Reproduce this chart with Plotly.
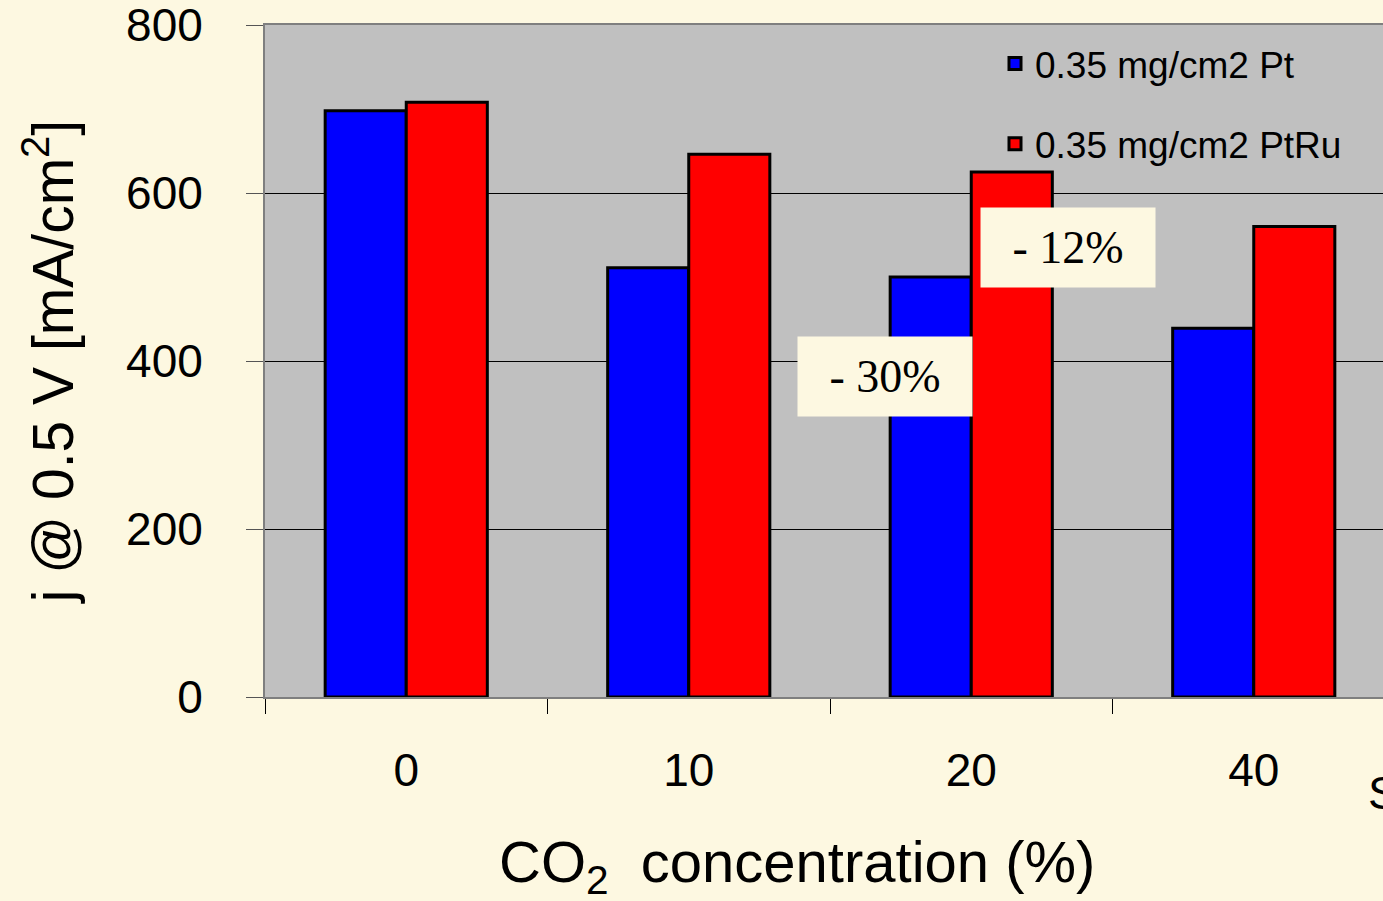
import plotly.graph_objects as go

categories = ["0", "10", "20", "40"]
pt_values = [698, 511, 500, 439]
ptru_values = [708, 646, 625, 560]
series_names = ["0.35 mg/cm2 Pt", "0.35 mg/cm2 PtRu"]
y_ticks = [0, 200, 400, 600, 800]
notes = ["- 30%", "- 12%"]
note_x = [2.195 - 0.5, 2.842 - 0.5]
note_y = [382, 535]
x_title = "CO<sub>2</sub>  concentration (%)"
y_title = "j @ 0.5 V [mA/cm<sup>2</sup>]"

W, H = 1383, 901
L, T, B = 265, 25, 204
PH = H - T - B

fig = go.Figure()
fig.add_trace(go.Bar(x=categories, y=pt_values, name=series_names[0],
                     marker=dict(color="#0000FF", line=dict(color="black", width=3)),
                     legendgroup="a"))
fig.add_trace(go.Bar(x=categories, y=ptru_values, name=series_names[1],
                     marker=dict(color="#FF0000", line=dict(color="black", width=3)),
                     legendgroup="b"))

for txt, xx, yy in zip(notes, note_x, note_y):
    fig.add_annotation(x=xx, y=yy, xref="x", yref="y", text=txt, showarrow=False,
                       font=dict(family="Liberation Serif", size=46, color="black"),
                       bgcolor="#FDF8E1", width=172, height=77, align="center", valign="middle")

fig.add_annotation(x=(797 - L) / (W - L), y=(T + PH - 866) / PH, xref="paper", yref="paper",
                   text=x_title, showarrow=False, xanchor="center", yanchor="middle",
                   font=dict(family="Liberation Sans", size=58, color="black"))

fig.add_annotation(x=(1366 - L) / (W - L), y=(T + PH - 793) / PH, xref="paper", yref="paper",
                   text="S", showarrow=False, xanchor="left", yanchor="middle",
                   font=dict(family="Liberation Sans", size=46, color="black"))

fig.update_layout(
    width=W, height=H,
    margin=dict(l=L, r=0, t=T, b=B, pad=0),
    paper_bgcolor="#FDF8E1", plot_bgcolor="#C0C0C0",
    barmode="group", bargap=0.426, bargroupgap=0,
    font=dict(family="Liberation Sans", color="black"),
    legend=dict(x=(995 - L) / (W - L), y=(T + PH - 33) / PH, xanchor="left", yanchor="top",
                bgcolor="rgba(0,0,0,0)", font=dict(size=37, family="Liberation Sans"),
                tracegroupgap=29, traceorder="grouped"),
    xaxis=dict(type="category", range=[-0.5, -0.5 + (W - L) / 282.5],
               tickson="boundaries", ticks="outside", ticklen=15, tickcolor="black", tickwidth=1,
               tickfont=dict(size=46), ticklabelstandoff=32,
               showline=True, mirror=True, linecolor="#7F7F7F", linewidth=2, showgrid=False),
    yaxis=dict(range=[0, 800], tickvals=y_ticks, ticks="outside", ticklen=17, tickcolor="#555555",
               tickwidth=1, tickfont=dict(size=46), ticklabelstandoff=34, ticklabeloverflow="allow",
               showline=True, linecolor="#7F7F7F", linewidth=2,
               showgrid=True, gridcolor="black", gridwidth=1, zeroline=False,
               title=dict(text=y_title, font=dict(size=57), standoff=34)),
)

fig.write_html("out.html")
